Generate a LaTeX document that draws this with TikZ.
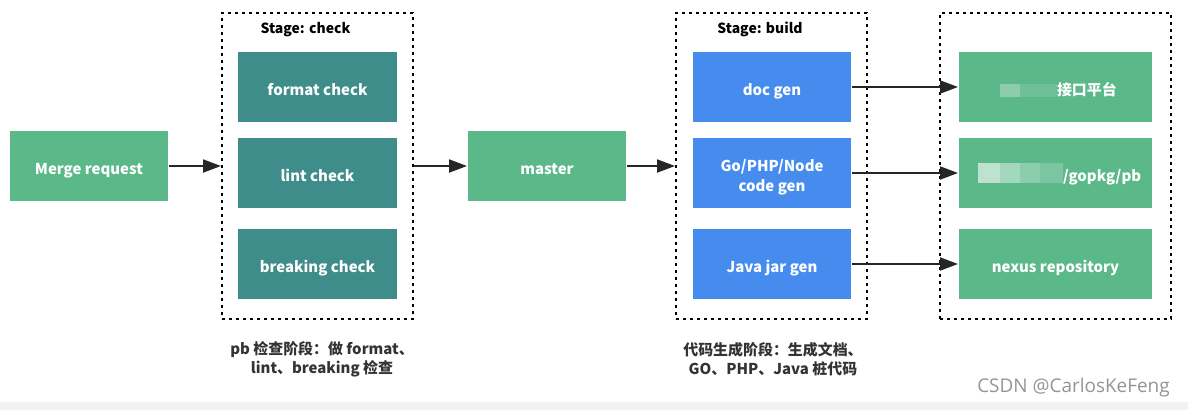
\documentclass[tikz,border=0pt]{standalone}
\usepackage{fontspec}
\setmainfont{Noto Sans CJK SC}
\newfontfamily\markfont{Open Sans}
\usetikzlibrary{arrows.meta}
\definecolor{boxgreen}{HTML}{5BB889}
\definecolor{boxteal}{HTML}{3E8D8A}
\definecolor{boxblue}{HTML}{458CEE}
\definecolor{captiongray}{HTML}{333333}

\begin{document}
\begin{tikzpicture}
	[x=1bp,y=-1bp,->,>={Triangle[length=18bp,width=13bp]},line width=2bp,
		base node/.style={rectangle,minimum height=70bp,inner sep=0pt,text=white,align=center,text height=17bp,text depth=0bp,font=\bfseries\fontsize{15}{19}\selectfont},
		green node/.style={base node,fill=boxgreen,minimum width=158bp},
		teal node/.style={base node,fill=boxteal,minimum width=159bp},
		blue node/.style={base node,fill=boxblue,minimum width=158bp},
		out node/.style={base node,fill=boxgreen,minimum width=193bp},
		stage node/.style={rectangle,draw,line width=2bp,dash pattern=on 3bp off 4bp,minimum height=306bp,inner sep=0pt},
		title node/.style={font=\bfseries\fontsize{14}{16}\selectfont},
		caption node/.style={align=center,text=captiongray,font=\bfseries\fontsize{15}{19}\selectfont}]

	\useasboundingbox (0,0) rectangle (1188,410);
	\path[fill=black!5] (0,402) rectangle (1188,410);

	% stages
	\node[stage node, minimum width=191bp] (check) at (317.5,166) {};
	\node[stage node, minimum width=191bp] (build) at (771.5,166) {};
	\node[stage node, minimum width=231bp] (target) at (1055.5,166) {};
	\node[title node] (checktitle) at (305.5,29.5) {Stage: check};
	\node[title node] (buildtitle) at (760,29.5) {Stage: build};

	\node[green node] (merge) at (89,166) {Merge request};
	\node[teal node] (format) at (317.5,87) {format check};
	\node[teal node] (lint) at (317.5,173) {lint check};
	\node[teal node] (breaking) at (317.5,264) {breaking check};
	\node[green node] (master) at (547,166) {master};
	\node[blue node] (doc) at (772,87) {doc gen};
	\node[blue node, text height=, text depth=] (code) at (772,173)
		{\begin{tabular}{@{}c@{}}\rule{0pt}{22bp}Go/PHP/Node\\\rule{0pt}{14.5bp}code gen\end{tabular}};
	\node[blue node] (jar) at (772,264) {Java jar gen};
	\node[out node] (site) at (1055.5,87) {};
	\node[out node] (gopkg) at (1055.5,173) {};
	\node[out node] (nexus) at (1055.5,264) {nexus repository};

	% blurred parts of the two upper targets
	\path[fill=white, opacity=.3] (1000,84) rectangle (1020,97);
	\path[fill=white, opacity=.12] (1020,84) rectangle (1057,97);
	\path[fill=white, opacity=.6] (978,163) rectangle (1000,183);
	\path[fill=white, opacity=.45] (1000,163) rectangle (1020,183);
	\path[fill=white, opacity=.3] (1020,163) rectangle (1040,183);
	\path[fill=white, opacity=.2] (1040,163) rectangle (1063,183);
	\node[base node, minimum height=0bp, anchor=west] (sitetext) at (1056,87) {接口平台};
	\node[base node, minimum height=0bp, anchor=west] (gopkgtext) at (1062,173) {/gopkg/pb};

	\node[caption node] (checknote) at (322,359) {pb 检查阶段：做 format、\\lint、breaking 检查};
	\node[caption node] (buildnote) at (773,359) {代码生成阶段：生成文档、\\GO、PHP、Java 桩代码};
	\node[text=black!42, font=\markfont\fontsize{19}{22}\selectfont, anchor=east] (mark) at (1174,387.5) {CSDN @CarlosKeFeng};

	\draw[black!85] (merge) -- (merge -| check.west);
	\draw[black!85] (master -| check.east) -- (master);
	\draw[black!85] (master) -- (master -| build.west);
	\path[black!85]
	(doc.east) edge (site)
	(code.east) edge (gopkg)
	(jar.east) edge (nexus)
	;
\end{tikzpicture}
\end{document}
